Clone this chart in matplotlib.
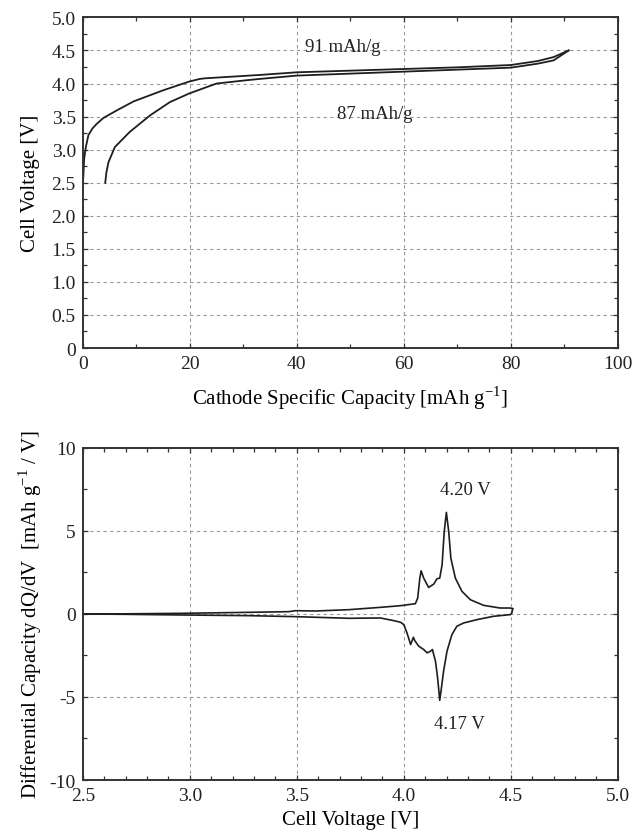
import numpy as np
import matplotlib
matplotlib.use("Agg")
import matplotlib.pyplot as plt
from matplotlib.ticker import MultipleLocator, FuncFormatter

plt.rcParams['font.family'] = ['Liberation Serif', 'DejaVu Serif']
plt.rcParams['axes.unicode_minus'] = False
plt.rcParams['mathtext.fontset'] = 'custom'
plt.rcParams['mathtext.rm'] = 'Liberation Serif'

# --- top panel: charge / discharge profiles (capacity in mAh/g, voltage in V)
charge_cap = [0.0, 0.1, 0.25, 0.6, 1.05, 1.8, 2.6, 3.86, 6.5, 9.5, 15.1, 19.9,
              21.9, 23.0, 33.1, 40.0, 50.0, 60.0, 70.0, 80.0, 85.0, 88.0, 90.8]
charge_volt = [2.5, 2.59, 2.86, 3.05, 3.22, 3.32, 3.39, 3.48, 3.60, 3.73, 3.90,
               4.03, 4.07, 4.08, 4.13, 4.17, 4.195, 4.22, 4.245, 4.28, 4.34,
               4.40, 4.50]
dis_cap = [90.8, 88.0, 85.0, 80.0, 70.0, 60.0, 50.0, 40.0, 33.1, 30.6, 25.0,
           19.9, 16.3, 12.6, 8.8, 6.0, 4.8, 4.4, 4.2]
dis_volt = [4.50, 4.35, 4.30, 4.24, 4.21, 4.18, 4.15, 4.12, 4.07, 4.05, 4.00,
            3.85, 3.72, 3.52, 3.27, 3.04, 2.81, 2.65, 2.5]

# --- bottom panel: dQ/dV (V, mAh g-1 V-1)
dqdv_up_v = [2.5, 2.7, 2.964, 3.276, 3.463, 3.494, 3.588, 3.744, 3.891, 3.985,
             4.054, 4.065, 4.075, 4.081, 4.093, 4.116, 4.140, 4.155, 4.168,
             4.179, 4.189, 4.199, 4.210, 4.220, 4.241, 4.272, 4.311, 4.373,
             4.450, 4.497, 4.509]
dqdv_up_q = [0.0, 0.01, 0.04, 0.10, 0.14, 0.20, 0.18, 0.26, 0.40, 0.50, 0.62,
             0.96, 2.16, 2.60, 2.16, 1.60, 1.80, 2.12, 2.16, 2.96, 4.96, 6.12,
             4.96, 3.36, 2.16, 1.36, 0.86, 0.52, 0.36, 0.36, 0.32]
dqdv_dn_v = [4.509, 4.505, 4.497, 4.419, 4.342, 4.280, 4.248, 4.225, 4.202,
             4.186, 4.174, 4.168, 4.158, 4.148, 4.137, 4.134, 4.124, 4.109,
             4.093, 4.070, 4.051, 4.045, 4.032, 4.015, 4.000, 3.985, 3.960,
             3.891, 3.744, 3.494, 3.276, 2.964, 2.7, 2.5]
dqdv_dn_q = [0.32, 0.06, -0.04, -0.14, -0.34, -0.54, -0.74, -1.24, -2.24,
             -3.44, -4.64, -5.20, -3.84, -2.84, -2.30, -2.14, -2.25, -2.34,
             -2.14, -1.94, -1.60, -1.40, -1.84, -1.14, -0.64, -0.50, -0.42,
             -0.24, -0.26, -0.16, -0.10, -0.06, -0.02, 0.0]

line_c = '#1e1e1e'
grid_kw = dict(color='#9a9a9a', linestyle=(0, (3, 3)), linewidth=0.8)


def style_axes(ax):
    for s in ax.spines.values():
        s.set_linewidth(1.4)
        s.set_color('#333333')
    ax.tick_params(which='both', direction='in', top=True, right=True,
                   labelsize=14, colors='#333333', labelcolor='#222222')
    ax.tick_params(which='major', length=3.5, width=0.9, pad=5)
    ax.tick_params(which='minor', length=3, width=0.9)
    ax.grid(True, which='major', **grid_kw)


fig = plt.figure(figsize=(6.32, 8.37), dpi=100)

# top panel
ax1 = fig.add_axes([0.131, 0.583, 0.8465, 0.395])
ax1.plot(charge_cap, charge_volt, color=line_c, lw=1.3)
ax1.plot(dis_cap, dis_volt, color=line_c, lw=1.3)
ax1.set_xlim(0, 100)
ax1.set_ylim(0, 5)
ax1.xaxis.set_major_locator(MultipleLocator(20))
ax1.xaxis.set_minor_locator(MultipleLocator(10))
ax1.yaxis.set_major_locator(MultipleLocator(0.5))
ax1.yaxis.set_minor_locator(MultipleLocator(0.25))
ax1.yaxis.set_major_formatter(FuncFormatter(lambda v, p: '0' if abs(v) < 1e-9 else f'{v:.1f}'))
style_axes(ax1)
ax1.set_xlabel('Cathode Specific Capacity [mAh g$^{-1}$]', fontsize=15, labelpad=8)
ax1.set_ylabel('Cell Voltage [V]', fontsize=15, labelpad=8)
ax1.text(48.6, 4.56, '91 mAh/g', fontsize=13.5, ha='center', va='center', color='#222222')
ax1.text(54.6, 3.55, '87 mAh/g', fontsize=13.5, ha='center', va='center', color='#222222')

# bottom panel
ax2 = fig.add_axes([0.131, 0.0669, 0.8465, 0.3967])
ax2.plot(dqdv_up_v, dqdv_up_q, color=line_c, lw=1.2)
ax2.plot(dqdv_dn_v, dqdv_dn_q, color=line_c, lw=1.2)
ax2.set_xlim(2.5, 5.0)
ax2.set_ylim(-10, 10)
ax2.xaxis.set_major_locator(MultipleLocator(0.5))
ax2.xaxis.set_minor_locator(MultipleLocator(0.1))
ax2.yaxis.set_major_locator(MultipleLocator(5))
ax2.yaxis.set_minor_locator(MultipleLocator(2.5))
ax2.xaxis.set_major_formatter(FuncFormatter(lambda v, p: f'{v:.1f}'))
ax2.yaxis.set_major_formatter(FuncFormatter(lambda v, p: f'{v:.0f}'))
style_axes(ax2)
ax2.set_xlabel('Cell Voltage [V]', fontsize=15, labelpad=4)
ax2.set_ylabel('Differential Capacity dQ/dV  [mAh g$^{-1}$ / V]', fontsize=15, labelpad=4)
ax2.text(4.29, 7.48, '4.20 V', fontsize=13.5, ha='center', va='center', color='#222222')
ax2.text(4.26, -6.6, '4.17 V', fontsize=13.5, ha='center', va='center', color='#222222')

fig.savefig('out.png', dpi=100)
